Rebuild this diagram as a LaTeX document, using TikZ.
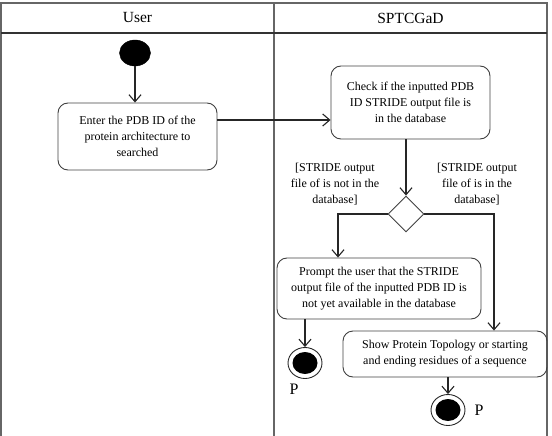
\documentclass[tikz,border=0pt]{standalone}
\usepackage{fontspec}
\setmainfont{Liberation Serif}
\usetikzlibrary{arrows.meta,shapes.geometric}
\begin{document}
\begin{tikzpicture}[x=1pt,y=-1pt,
  frame/.style={draw=black!60,line width=1.4pt},
  act/.style={draw=black!75,rounded corners=10pt,line width=0.9pt,align=center,
    font=\fontsize{12}{16}\selectfont,inner sep=0pt},
  arr/.style={draw=black!85,line width=1.1pt,-{Straight Barb[length=7pt,width=12pt,line width=1.1pt]}},
  guard/.style={align=center,font=\fontsize{12}{16}\selectfont,inner sep=0pt},
  lab/.style={font=\fontsize{16}{18}\selectfont,inner sep=0pt},
  hdr/.style={font=\fontsize{15.5}{18}\selectfont,inner sep=0pt}]
\useasboundingbox (0,0) rectangle (552,436);
% swimlane frame
\draw[frame] (1,436) -- (1,3) -- (547,3) -- (547,436);
\draw[frame] (274,3) -- (274,436);
\draw[draw=black!80,line width=1.2pt] (1,33) -- (547,33);
\node[hdr] (hUser) at (137.5,18) {User};
\node[hdr] (hSys) at (410.5,18) {SPTCGaD};
% nodes
\node[draw,fill=black,ellipse,minimum width=31pt,minimum height=26pt,inner sep=0pt] (start) at (135,53) {};
\node[act,minimum width=159pt,minimum height=67pt] (b1) at (137.5,136.5)
  {Enter the PDB ID of the\\protein architecture to\\searched};
\node[act,minimum width=159pt,minimum height=73pt] (b2) at (410.5,102.5)
  {Check if the inputted PDB\\ID STRIDE output file is\\in the database};
\node[draw=black!75,line width=0.9pt,diamond,minimum width=36pt,minimum height=36pt,inner sep=0pt] (d) at (406,214) {};
\node[act,minimum width=204pt,minimum height=61pt] (b3) at (379,288.5)
  {Prompt the user that the STRIDE\\output file of the inputted PDB ID is\\not yet available in the database};
\node[act,minimum width=204pt,minimum height=46pt] (b4) at (445,354)
  {Show Protein Topology or starting\\and ending residues of a sequence};
\node[guard] (g1) at (335,184) {[STRIDE output\\file of is not in the\\database]};
\node[guard] (g2) at (477,184.5) {[STRIDE output\\file of is in the\\database]};
\node[draw=black!85,line width=0.9pt,ellipse,minimum width=34pt,minimum height=31pt,inner sep=0pt] (e1) at (305,363) {};
\fill[black] (e1.center) ellipse [x radius=12.5pt,y radius=11pt];
\node[draw=black!85,line width=0.9pt,ellipse,minimum width=34pt,minimum height=31pt,inner sep=0pt] (e2) at (448,410) {};
\fill[black] (e2.center) ellipse [x radius=12.5pt,y radius=11pt];
\node[lab] (p1) at (294,389) {P};
\node[lab] (p2) at (479,410) {P};
% connectors
\draw[arr] (start) -- (b1.north -| start);
\coordinate (c1) at ([yshift=16.5pt]b1.east);
\draw[arr] (c1) -- (c1 -| b2.west);
\draw[arr] (d.north |- b2.south) -- (d.north);
\coordinate (c3) at ([xshift=-41pt]b3.north);
\draw[arr] (d.west) -| (c3);
\coordinate (c4) at ([xshift=49pt]b4.north);
\draw[arr] (d.east) -| (c4);
\draw[arr] (e1.north |- b3.south) -- (e1.north);
\draw[arr] (e2.north |- b4.south) -- (e2.north);
\end{tikzpicture}
\end{document}
